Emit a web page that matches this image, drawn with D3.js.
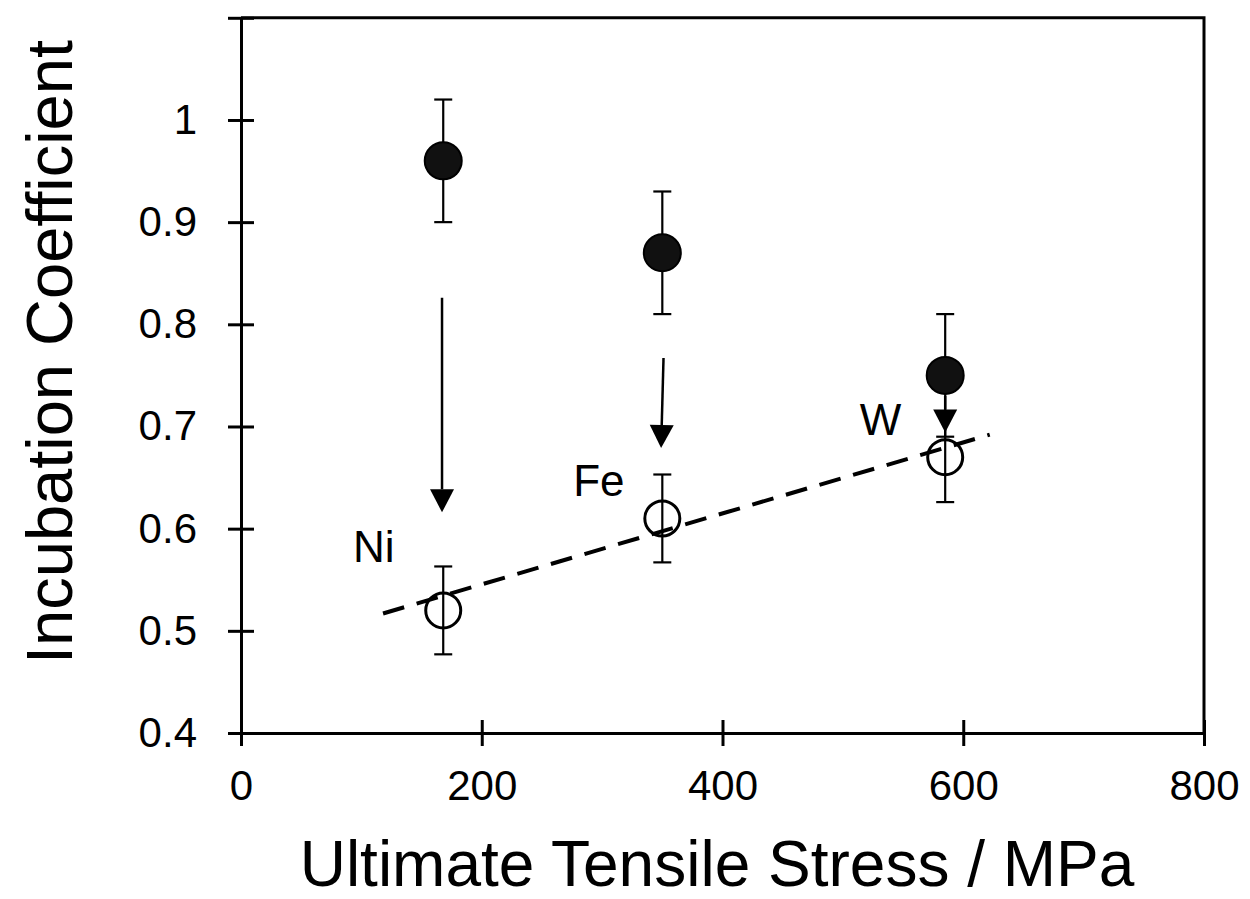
<!DOCTYPE html>
<html><head><meta charset="utf-8">
<script src="https://cdn.jsdelivr.net/npm/d3@7"></script>
<style>
html,body{margin:0;padding:0;background:#fff;}
text{font-family:"Liberation Sans",Arial,sans-serif;fill:#000;}
</style></head>
<body>
<svg id="chart" width="1250" height="899"></svg>
<script>
// Data
const metals = ["Ni", "Fe", "W"];
const uts = [168, 350, 585];
const coefBefore = [0.96, 0.87, 0.75];
const errBefore = [0.06, 0.06, 0.06];
const coefAfter = [0.52, 0.61, 0.67];
const errAfter = [0.043, 0.043, 0.044];
const arrowX0 = [167, 351, 585];
const arrowX1 = [167, 349, 585];
const arrowFrom = [0.826, 0.767, 0.73];
const arrowTo = [0.616, 0.679, 0.694];
const trendX = [118, 622];
const trendY = [0.517, 0.692];
const labelX = [93, 276, 514];
const labelY = [0.567, 0.632, 0.692];
const xTicks = [0, 200, 400, 600, 800];
const yTicks = [0.4, 0.5, 0.6, 0.7, 0.8, 0.9, 1.0, 1.1];
const yTickLabels = ["0.4", "0.5", "0.6", "0.7", "0.8", "0.9", "1", ""];

const svg = d3.select("#chart");
const x = d3.scaleLinear().domain([0, 800]).range([241, 1204]);
const y = d3.scaleLinear().domain([0.4, 1.1]).range([733, 17.8]);

// frame (top and right)
svg.append("path")
  .attr("d", `M${x(0)},${y(1.1)}H${x(800)}V${y(0.4)}`)
  .attr("fill", "none").attr("stroke", "#000").attr("stroke-width", 3);

// axes
const yAxis = d3.axisLeft(y).tickValues(yTicks).tickFormat((d, i) => yTickLabels[i]).tickSizeInner(13).tickSizeOuter(0).tickPadding(31);
const gy = svg.append("g").attr("transform", `translate(${x(0)},0)`).call(yAxis);
gy.selectAll(".tick line").attr("x2", 13).attr("x1", -13);
const xAxis = d3.axisBottom(x).tickValues(xTicks).tickFormat(d3.format("d")).tickSizeInner(13).tickSizeOuter(0).tickPadding(24);
const gx = svg.append("g").attr("transform", `translate(0,${y(0.4)})`).call(xAxis);
gx.selectAll(".tick line").attr("y1", -13).attr("y2", 13);
[gx, gy].forEach(g => {
  g.select(".domain").attr("stroke", "#000").attr("stroke-width", 3);
  g.selectAll(".tick line").attr("stroke", "#000").attr("stroke-width", 3);
  g.selectAll(".tick text").attr("font-size", 42).attr("font-family", "Liberation Sans, Arial, sans-serif").attr("fill", "#000");
});
gx.selectAll(".tick text").attr("dy", "0.72em");

// axis titles
svg.append("text").attr("x", 717).attr("y", 886).attr("text-anchor", "middle")
  .attr("font-size", 64).text("Ultimate Tensile Stress / MPa");
svg.append("text").attr("transform", "translate(72,352) rotate(-90)").attr("text-anchor", "middle")
  .attr("font-size", 65).text("Incubation Coefficient");

// trend line
svg.append("line")
  .attr("x1", x(trendX[0])).attr("y1", y(trendY[0]))
  .attr("x2", x(trendX[1])).attr("y2", y(trendY[1]))
  .attr("stroke", "#000").attr("stroke-width", 4).attr("stroke-dasharray", "22,13");

// error bars
function errBars(vals, errs) {
  const g = svg.append("g").attr("stroke", "#000").attr("stroke-width", 2.2);
  metals.forEach((m, i) => {
    const cx = x(uts[i]);
    g.append("line").attr("x1", cx).attr("x2", cx).attr("y1", y(vals[i] - errs[i])).attr("y2", y(vals[i] + errs[i]));
    [vals[i] - errs[i], vals[i] + errs[i]].forEach(v => {
      g.append("line").attr("x1", cx - 9).attr("x2", cx + 9).attr("y1", y(v)).attr("y2", y(v));
    });
  });
}
errBars(coefBefore, errBefore);
errBars(coefAfter, errAfter);

// markers
svg.append("g").selectAll("circle").data(coefBefore).join("circle")
  .attr("cx", (d, i) => x(uts[i])).attr("cy", d => y(d)).attr("r", 18.5)
  .attr("fill", "#111").attr("stroke", "#000").attr("stroke-width", 2);
svg.append("g").selectAll("circle").data(coefAfter).join("circle")
  .attr("cx", (d, i) => x(uts[i])).attr("cy", d => y(d)).attr("r", 17.5)
  .attr("fill", "none").attr("stroke", "#000").attr("stroke-width", 3);

// arrows
metals.forEach((m, i) => {
  const xa = x(arrowX0[i]), ya = y(arrowFrom[i]);
  const xb = x(arrowX1[i]), yb = y(arrowTo[i]);
  const headLen = 23, headW = 12;
  const ang = Math.atan2(yb - ya, xb - xa);
  const bx = xb - headLen * Math.cos(ang), by = yb - headLen * Math.sin(ang);
  svg.append("line").attr("x1", xa).attr("y1", ya).attr("x2", bx).attr("y2", by)
    .attr("stroke", "#000").attr("stroke-width", 2.5);
  const px = -Math.sin(ang) * headW, py = Math.cos(ang) * headW;
  svg.append("path")
    .attr("d", `M${xb},${yb}L${bx + px},${by + py}L${bx - px},${by - py}Z`)
    .attr("fill", "#000");
});

// metal labels
svg.append("g").selectAll("text").data(metals).join("text")
  .attr("x", (d, i) => x(labelX[i])).attr("y", (d, i) => y(labelY[i]))
  .attr("font-size", 44).text(d => d);
</script>
</body></html>
